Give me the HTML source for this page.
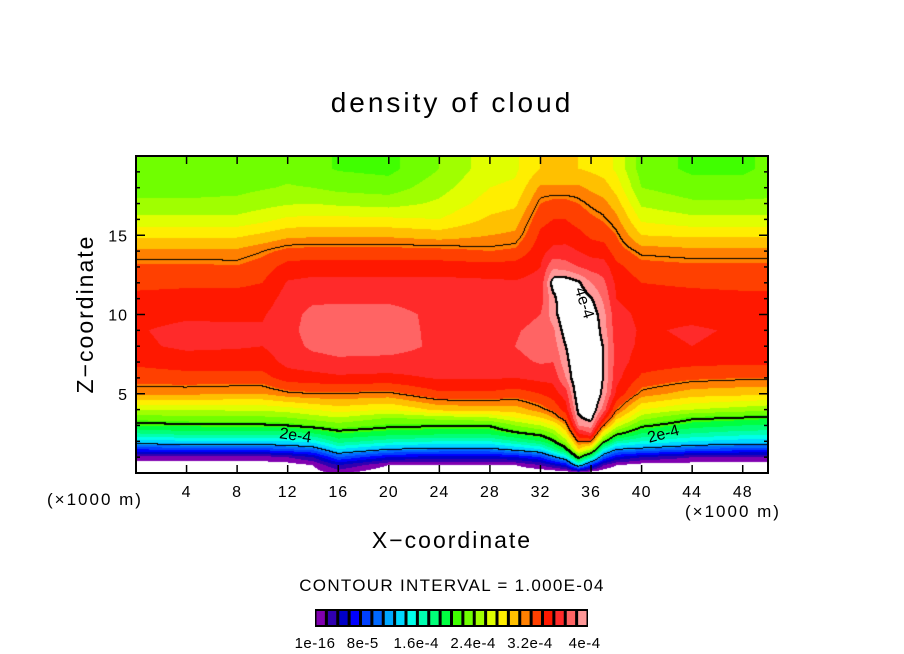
<!DOCTYPE html>
<html><head><meta charset="utf-8">
<style>
html,body{margin:0;padding:0;background:#fff;}
#wrap{position:relative;width:904px;height:654px;overflow:hidden;font-family:"Liberation Sans",sans-serif;}
#field{position:absolute;left:136px;top:156px;}
svg{position:absolute;left:0;top:0;}
</style></head>
<body>
<div id="wrap">
<canvas id="field" width="632" height="317"></canvas>
<svg id="ov" width="904" height="654"></svg>
</div>
<script>
// ---- data ----
const xs = [0,4,8,10,12,14,16,20,24,28,30,32,33,34,35,36,37,38,40,44,48,50];
const zs = [0,0.5,1,1.5,2,2.5,3,3.5,4,5,6,7,8,9,10,11,12,13,14,15,16,17,18,19.2];
// each column: density level index (units of 1.6e-5) at zs
const colValues = [
[-1,-0.5,0.5,4,7.5,10,12,13.5,15,18.2,19.5,20.2,20.8,20.9,20.6,20.3,19.7,19.2,18.2,16.8,15.3,14.2,13.6,13.2],
[-1,-0.5,0.5,4.5,7.8,10.5,12.2,13.8,15,18.2,19.6,20.5,21.2,21.3,20.8,20.4,19.8,19.2,18.2,16.8,15.3,14.2,13.6,13.2],
[-1,-0.5,0.5,4.5,7.8,10.5,12.3,13.8,15.2,18,19.6,20.5,21.1,21.2,20.8,20.4,19.8,19.1,18.2,16.8,15.3,14.3,13.7,13.3],
[-1,-0.5,0.5,4.5,7.8,10.5,12.3,13.8,15.2,18,19.6,20.5,21,21.1,20.9,20.5,20,19.5,18.7,17.2,15.7,14.6,13.9,13.5],
[-1,-0.5,1,5,8,10.5,12.5,14,15.5,18.6,20.5,21.3,21.6,21.7,21.6,21.4,21.1,20.4,19.3,17.7,16.2,14.9,14.1,13.6],
[-0.5,0,2,5.5,8.5,11,13,14.5,16,18.8,20.6,21.6,22.2,22.4,22.3,21.8,21.3,20.5,19.4,17.8,16.3,15,14,13.3],
[0.3,2,5,8,10.5,12,13.5,15,16.5,18.8,20.8,21.8,22.4,22.6,22.4,21.8,21.3,20.5,19.4,17.8,16.3,14.8,13.7,12.9],
[-1,0,3,6.5,9.5,11.5,12.8,14,16,18.6,20.7,21.7,22.4,22.5,22.4,21.8,21.3,20.5,19.4,17.8,16.2,14.6,13.5,12.7],
[-1,0,2.5,6,9,11.3,12.6,14.5,17.3,19.8,21.1,21.6,21.8,21.7,21.7,21.5,21.3,20.5,19.3,17.5,16,15.2,14.6,14],
[-1,0,2.5,6,9,11.3,12.6,15,17.5,19.8,21.1,21.5,21.6,21.6,21.6,21.4,21.2,20.4,19,18,17.2,16.5,16,15.6],
[-1,0,3,7,10,12.2,14,16,17.5,19.5,21,21.7,22,21.9,21.6,21.3,21.1,20.5,19.2,18.2,17.5,16.8,16.2,15.8],
[-1,1,4,8,11,13,15,17,18.5,20,21.3,22.1,22.5,22.3,22,21.5,21.3,21,20.6,20.2,19.7,19,18.2,17],
[-1,2,6,10,12.3,14,16,18,19.2,20.5,21.3,22,22.5,22.8,23.5,23.6,24.6,22.8,21.3,20.5,20,19.3,18.2,17],
[-1,3,8,12,14.5,16.5,18,19.5,20.5,21.5,23,23.6,24,24.6,25,25.2,24.8,22.5,21.3,20.6,20,19.3,18.2,17],
[-0.5,8,13,17,19,21,23,23.8,24.3,25,25.3,25.3,25.3,25.3,25.2,24.8,24.2,22,21,20.3,19.6,19,18.2,17],
[-1,4,10,15,19,22,23.5,24.5,25,25.5,25.5,25.4,25.3,25.1,24.8,24.1,23,21.6,20.6,19.8,19.2,18.6,17.8,16.8],
[-1,1,5,9,13,16,19,21,22.5,23.6,23.9,23.9,23.9,23.5,23.3,22.8,22.2,21.5,20.5,19.6,18.9,18.3,17.5,16.5],
[-1,0,3,6.5,10,13,15.5,17.5,19,20.8,21.3,21.5,21.5,21.4,21.3,21,20.8,20.3,19.5,19,18.3,17.5,16.6,15.8],
[-1,-0.5,2,6,9,11,12.8,14.5,16,18.5,19.8,20.5,20.8,20.9,20.8,20.5,20,19.4,18.5,17,15.8,14.8,14,13.5],
[-1,-0.5,1,5,8,10,11.5,12.8,15,17.5,19.2,20.3,21,21.1,20.8,20.4,19.8,19.2,18.3,16.8,15.3,14.2,13.4,12.8],
[-1,-0.5,0.8,4.5,7.5,9.5,11,12.5,14.5,17.3,19,20.2,20.8,20.9,20.6,20.3,19.7,19.2,18.3,16.8,15.3,14.2,13.4,12.8],
[-1,-0.5,0.8,4.5,7.5,9.5,10.8,12.3,14.2,17.2,19,20.2,20.8,20.9,20.6,20.3,19.7,19.2,18.3,16.8,15.3,14.2,13.6,13.2]
];
const palette = ["#8000b0","#3000b0","#0000c8","#0000ff","#0040ff","#0068ff","#00a8ff","#00d8ff","#00ffea","#00ffb0","#00ff78","#00ff40","#40ff00","#70ff00","#a0ff00","#e0ff00","#ffee00","#ffc000","#ff8000","#ff4000","#ff1800","#ff2a2a","#ff6464","#ff9898"];
const contourLevels = [6.25,12.5,18.75,24];
const contourWidths = [1,2,1,2];
const xTicks = [4,8,12,16,20,24,28,32,36,40,44,48];
const zTicks = [5,10,15];
const barLabels = ["1e-16","8e-5","1.6e-4","2.4e-4","3.2e-4","4e-4"];
const barLabelIdx = [0,4.2,8.9,13.9,18.9,23.7];

// ---- axes ----
const PX0=136, PX1=768, PY0=156, PY1=473, XMAX=50, ZMAX=20;
const sx = x => PX0 + x/XMAX*(PX1-PX0);
const sy = z => PY1 - z/ZMAX*(PY1-PY0);

function seg(arr,v){let i=0;while(i<arr.length-2&&v>arr[i+1])i++;let t=(v-arr[i])/(arr[i+1]-arr[i]);return [i,Math.max(0,Math.min(1,t))];}
function val(x,z){
  const [i,tx]=seg(xs,x), [j,tz]=seg(zs,z);
  const a=colValues[i][j],b=colValues[i+1][j],c=colValues[i][j+1],d=colValues[i+1][j+1];
  return (a*(1-tx)+b*tx)*(1-tz)+(c*(1-tx)+d*tx)*tz;
}
function hex(h){return [parseInt(h.slice(1,3),16),parseInt(h.slice(3,5),16),parseInt(h.slice(5,7),16)];}
const rgb = palette.map(hex);

const cv=document.getElementById('field'), ctx=cv.getContext('2d');
const W=cv.width,H=cv.height, img=ctx.createImageData(W,H);
const V=new Float32Array(W*H);
for(let py=0;py<H;py++)for(let px=0;px<W;px++){
  const x=(px+0.5)/W*XMAX, z=(H-py-0.5)/H*ZMAX;
  V[py*W+px]=val(x,z);
}
for(let k=0;k<W*H;k++){
  const v=V[k];let c=[255,255,255];
  if(v>=0&&v<24)c=rgb[Math.floor(v)];
  img.data[k*4]=c[0];img.data[k*4+1]=c[1];img.data[k*4+2]=c[2];img.data[k*4+3]=255;
}
function blk(px,py){if(px<0||py<0||px>=W||py>=H)return;const k=(py*W+px)*4;img.data[k]=0;img.data[k+1]=0;img.data[k+2]=0;}
contourLevels.forEach((L,li)=>{
  for(let py=0;py<H;py++)for(let px=0;px<W;px++){
    const v=V[py*W+px];
    const r=px<W-1?V[py*W+px+1]:v, d=py<H-1?V[(py+1)*W+px]:v;
    if((v-L)*(r-L)<0||(v-L)*(d-L)<0){blk(px,py);if(contourWidths[li]>1){blk(px,py+1);blk(px+1,py);}}
  }
});
ctx.putImageData(img,0,0);

// ---- SVG overlay ----
const NS="http://www.w3.org/2000/svg", svg=document.getElementById('ov');
function el(tag,attrs,parent){const e=document.createElementNS(NS,tag);for(const k in attrs)e.setAttribute(k,attrs[k]);(parent||svg).appendChild(e);return e;}
function txt(s,attrs){const t=el('text',Object.assign({'font-family':'Liberation Sans, sans-serif',fill:'#000'},attrs));t.textContent=s;return t;}

const frame=el('rect',{x:PX0,y:PY0,width:PX1-PX0,height:PY1-PY0,fill:'none',stroke:'#000','stroke-width':2});



xTicks.forEach(v=>{
  const x=sx(v);
  const t1=el('line',{x1:x,x2:x,y1:PY1,y2:PY1-8,stroke:'#000','stroke-width':1.5});
  
  
  el('line',{x1:x,x2:x,y1:PY0,y2:PY0+8,stroke:'#000','stroke-width':1.5});
  const l=txt(String(v),{x:x,y:497,'font-size':16,'text-anchor':'middle','letter-spacing':1});
  
  
});
for(let z=1;z<ZMAX;z++){
  const y=sy(z), len=(z%5===0)?9:4;
  const t=el('line',{x1:PX0,x2:PX0+len,y1:y,y2:y,stroke:'#000','stroke-width':1.5});
  
  
  el('line',{x1:PX1,x2:PX1-len,y1:y,y2:y,stroke:'#000','stroke-width':1.5});
}
zTicks.forEach(v=>{
  const l=txt(String(v),{x:128,y:sy(v)+6,'font-size':16,'text-anchor':'end','letter-spacing':1});
  
  
});

// contour labels
const lab1=txt('2e-4',{x:sx(11.3),y:sy(2.2),'font-size':16,transform:`rotate(8 ${sx(11.3)} ${sy(2.2)})`});


const lab2=txt('2e-4',{x:sx(40.6),y:sy(1.9),'font-size':16,transform:`rotate(-15 ${sx(40.6)} ${sy(1.9)})`});


const lab3=txt('4e-4',{x:sx(34.7),y:sy(11.6),'font-size':16,transform:`rotate(72 ${sx(34.7)} ${sy(11.6)})`});



// colorbar
const bx0=315,bx1=588,by0=609,by1=627,n=palette.length,bw=(bx1-bx0)/n;
el('rect',{x:bx0,y:by0,width:bx1-bx0,height:by1-by0,fill:'#000'});
palette.forEach((c,i)=>{
  const r=el('rect',{x:bx0+i*bw+1.5,y:by0+2,width:bw-3,height:by1-by0-4,fill:c});
  
  
});
barLabels.forEach((s,i)=>{
  const l=txt(s,{x:bx0+barLabelIdx[i]*bw,y:648,'font-size':15,'text-anchor':'middle','letter-spacing':0.5});
  
  
});
</script>
<svg width="904" height="654" style="position:absolute;left:0;top:0;pointer-events:none">
<text x="452" y="112" font-family="Liberation Sans, sans-serif" font-size="28" text-anchor="middle" letter-spacing="3">density of cloud</text>
<text x="0" y="0" transform="translate(93 314) rotate(-90)" font-family="Liberation Sans, sans-serif" font-size="23" text-anchor="middle" letter-spacing="2">Z−coordinate</text>
<text x="452" y="548" font-family="Liberation Sans, sans-serif" font-size="23" text-anchor="middle" letter-spacing="2">X−coordinate</text>
<text x="47" y="505" font-family="Liberation Sans, sans-serif" font-size="17" letter-spacing="2">(×1000 m)</text>
<text x="685" y="517" font-family="Liberation Sans, sans-serif" font-size="17" letter-spacing="2">(×1000 m)</text>
<text x="452" y="591" font-family="Liberation Sans, sans-serif" font-size="17" text-anchor="middle" letter-spacing="1.3">CONTOUR INTERVAL = 1.000E-04</text>
</svg>
</body></html>
